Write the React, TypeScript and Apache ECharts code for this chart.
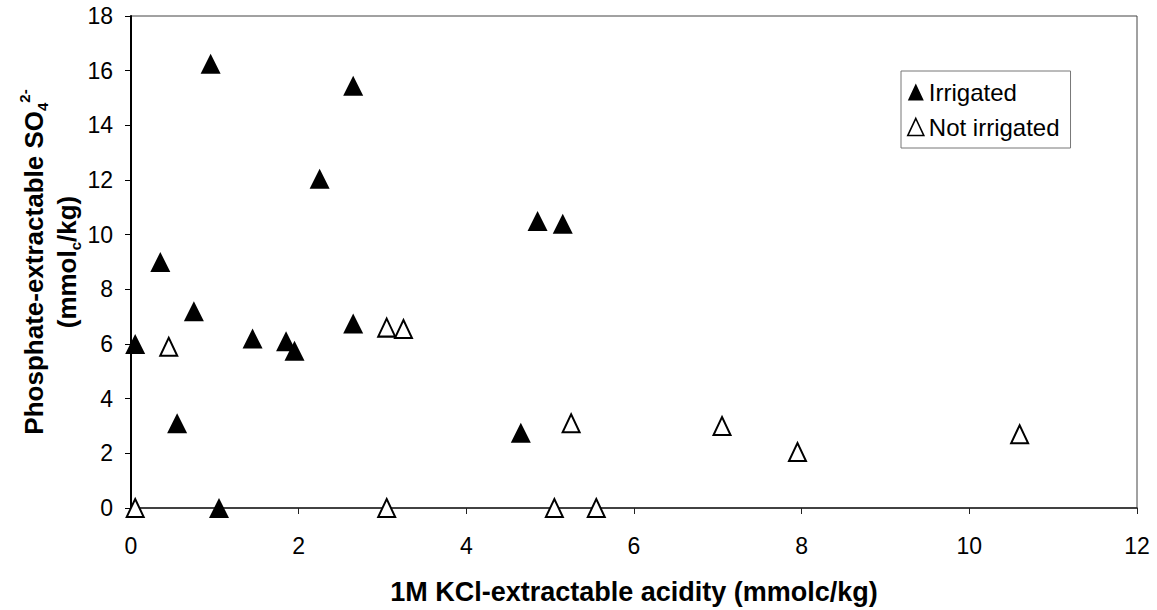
import React, { useEffect, useRef } from "react";
import * as echarts from "echarts";

// 1M KCl-extractable acidity (mmolc/kg) vs phosphate-extractable sulphate
const irrigatedX = [0.05, 0.35, 0.55, 0.75, 0.95, 1.05, 1.45, 1.85, 1.95, 2.25, 2.65, 2.65, 4.65, 4.85, 5.15];
const irrigatedY = [6.0, 9.0, 3.1, 7.2, 16.25, 0, 6.2, 6.1, 5.75, 12.05, 15.45, 6.75, 2.75, 10.5, 10.4];

const notIrrigatedX = [0.05, 0.45, 3.05, 3.05, 3.25, 5.05, 5.25, 5.55, 7.05, 7.95, 10.6];
const notIrrigatedY = [0, 5.9, 0, 6.6, 6.55, 0, 3.1, 0, 3.0, 2.05, 2.7];

const seriesNames = ["Irrigated", "Not irrigated"];
const xTitle = "1M KCl-extractable acidity (mmolc/kg)";

const FONT = "'Liberation Sans', Arial, Helvetica, sans-serif";

const zip = (xs: number[], ys: number[]) => xs.map((x, i) => [x, ys[i]]);

export default function App() {
  const ref = useRef<HTMLDivElement>(null);

  useEffect(() => {
    if (!ref.current) return;
    const chart = echarts.init(ref.current, undefined, { renderer: "svg" });

    const gridLeft = 131;
    const gridTop = 16;
    const gridRight = 20;
    const gridBottom = 102;

    chart.setOption({
      animation: false,
      backgroundColor: "#ffffff",
      textStyle: { fontFamily: FONT },
      grid: {
        left: gridLeft,
        top: gridTop,
        right: gridRight,
        bottom: gridBottom,
        show: true,
        borderColor: "#444",
        borderWidth: 1,
        backgroundColor: "transparent",
      },
      legend: {
        orient: "vertical",
        left: 901,
        top: 71,
        padding: [7, 11, 7, 6],
        itemWidth: 16,
        itemHeight: 17,
        itemGap: 7,
        borderColor: "#777",
        borderWidth: 1,
        backgroundColor: "#fff",
        textStyle: { fontSize: 24, color: "#000", fontFamily: FONT, lineHeight: 28 },
        data: [
          { name: seriesNames[0], icon: "triangle", itemStyle: { color: "#000", borderWidth: 0 } },
          {
            name: seriesNames[1],
            icon: "triangle",
            itemStyle: { color: "#fff", borderColor: "#000", borderWidth: 1.6 },
          },
        ],
      },
      xAxis: {
        type: "value",
        min: 0,
        max: 12,
        interval: 2,
        name: xTitle,
        nameLocation: "middle",
        nameGap: 70,
        nameTextStyle: { fontSize: 27, fontWeight: "bold", color: "#000", fontFamily: FONT },
        axisLine: { show: true, onZero: false, lineStyle: { color: "#222", width: 1.5 } },
        axisTick: { show: true, inside: false, length: 6, lineStyle: { color: "#222", width: 1 } },
        axisLabel: { fontSize: 23, color: "#000", margin: 26, fontFamily: FONT },
        splitLine: { show: false },
      },
      yAxis: {
        type: "value",
        min: 0,
        max: 18,
        interval: 2,
        axisLine: { show: true, onZero: false, lineStyle: { color: "#000", width: 2 } },
        axisTick: { show: true, inside: false, length: 6, lineStyle: { color: "#000", width: 1 } },
        axisLabel: { fontSize: 23, color: "#000", margin: 18, fontFamily: FONT },
        splitLine: { show: false },
      },
      graphic: [
        {
          type: "text",
          x: 50,
          y: 262,
          rotation: Math.PI / 2,
          style: {
            text: "Phosphate-extractable SO{sub|4}{sup|2-}\n(mmol{sub|c}/kg)",
            fontSize: 26,
            fontWeight: "bold",
            fontFamily: FONT,
            fill: "#000",
            align: "center",
            verticalAlign: "middle",
            lineHeight: 33,
            rich: {
              sub: { fontSize: 15, fontWeight: "bold", fontFamily: FONT, fill: "#000", verticalAlign: "bottom" },
              sup: { fontSize: 15, fontWeight: "bold", fontFamily: FONT, fill: "#000", verticalAlign: "top" },
            },
          },
        },
      ],
      series: [
        {
          name: seriesNames[0],
          type: "scatter",
          symbol: "triangle",
          symbolSize: [20, 20],
          clip: false,
          itemStyle: { color: "#000", opacity: 1 },
          data: zip(irrigatedX, irrigatedY),
          z: 3,
        },
        {
          name: seriesNames[1],
          type: "scatter",
          symbol: "triangle",
          symbolSize: [17, 18],
          clip: false,
          itemStyle: { color: "#fff", borderColor: "#000", borderWidth: 2, opacity: 1 },
          data: zip(notIrrigatedX, notIrrigatedY),
          z: 4,
        },
      ],
    });

    return () => chart.dispose();
  }, []);

  return (
    <div
      ref={ref}
      style={{ position: "fixed", left: 0, top: 0, width: 1157, height: 610, background: "#fff" }}
    />
  );
}
